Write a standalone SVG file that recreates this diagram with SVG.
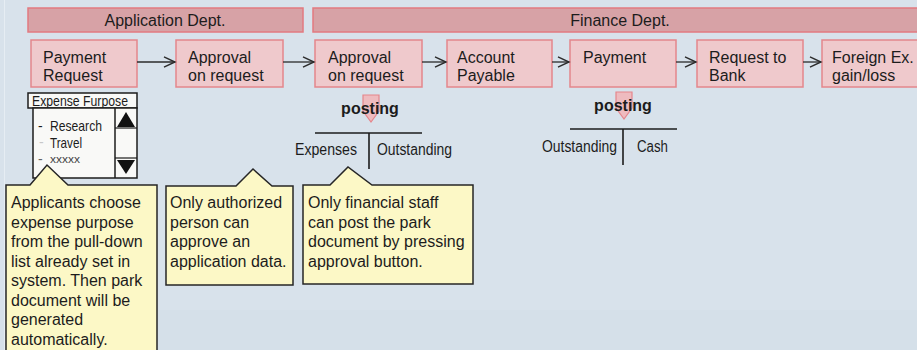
<svg xmlns="http://www.w3.org/2000/svg" width="917" height="350" viewBox="0 0 917 350">
  <defs>
    <marker id="chev" markerWidth="14" markerHeight="12" refX="12" refY="6" orient="auto" markerUnits="userSpaceOnUse">
      <path d="M1,0.8 L12,6 L1,11.2" fill="none" stroke="#2b2b2b" stroke-width="1.4"/>
    </marker>
    <style>
      text { font-family: "Liberation Sans", Arial, sans-serif; fill: #1c1c1c; }
      .dept { fill: #d7a2a6; stroke: #e27a80; stroke-width: 1.5; }
      .dept-t { font-size: 16px; text-anchor: middle; }
      .box { fill: #efc9cc; stroke: #e4868c; stroke-width: 1.5; }
      .lbl { font-size: 16px; }
      .conn { stroke: #2b2b2b; stroke-width: 1.3; fill: none; marker-end: url(#chev); }
      .post { fill: #eebbbf; stroke: #e5868c; stroke-width: 1.2; }
      .post-t { font-size: 16px; font-weight: bold; text-anchor: middle; }
      .tline { stroke: #1c1c1c; stroke-width: 1.6; }
      .tacc { font-size: 16px; }
      .note { fill: #fcf8c6; stroke: #262626; stroke-width: 1.5; }
      .note-t { font-size: 16px; }
      .ui { fill: #f9f9f7; stroke: #1c1c1c; stroke-width: 1.5; }
    </style>
  </defs>

  <!-- canvas -->
  <rect x="0" y="0" width="917" height="350" fill="#d8e2eb"/>
  <rect x="0" y="310" width="917" height="40" fill="#d5e0e9"/>
  <line x1="4.5" y1="0" x2="4.5" y2="350" stroke="#e6edf3" stroke-width="1"/>

  <!-- department headers -->
  <g id="dept-application">
    <rect class="dept" x="28" y="8" width="275" height="24"/>
    <text class="dept-t" x="165" y="26">Application Dept.</text>
  </g>
  <g id="dept-finance">
    <rect class="dept" x="313" y="8" width="612" height="24"/>
    <text class="dept-t" x="620" y="26">Finance Dept.</text>
  </g>

  <!-- process steps -->
  <g id="payment-request">
    <rect class="box" x="31" y="40" width="106" height="47"/>
    <text class="lbl" x="43" y="63">Payment</text>
    <text class="lbl" x="43" y="81">Request</text>
  </g>
  <g id="approval-app">
    <rect class="box" x="176" y="40" width="107" height="47"/>
    <text class="lbl" x="188" y="63">Approval</text>
    <text class="lbl" x="188" y="81">on request</text>
  </g>
  <g id="approval-fin">
    <rect class="box" x="315" y="40" width="107" height="47"/>
    <text class="lbl" x="328" y="63">Approval</text>
    <text class="lbl" x="328" y="81">on request</text>
  </g>
  <g id="account-payable">
    <rect class="box" x="447" y="40" width="105" height="47"/>
    <text class="lbl" x="457" y="63">Account</text>
    <text class="lbl" x="457" y="81">Payable</text>
  </g>
  <g id="payment">
    <rect class="box" x="570" y="40" width="106" height="47"/>
    <text class="lbl" x="583" y="63">Payment</text>
  </g>
  <g id="request-bank">
    <rect class="box" x="697" y="40" width="106" height="47"/>
    <text class="lbl" x="709" y="63">Request to</text>
    <text class="lbl" x="709" y="81">Bank</text>
  </g>
  <g id="fx-gain-loss">
    <rect class="box" x="822" y="40" width="110" height="47"/>
    <text class="lbl" x="832" y="63">Foreign Ex.</text>
    <text class="lbl" x="832" y="81">gain/loss</text>
  </g>

  <!-- flow connectors -->
  <g id="connectors">
    <line class="conn" x1="137" y1="62" x2="175" y2="62"/>
    <line class="conn" x1="283" y1="62" x2="314" y2="62"/>
    <line class="conn" x1="422" y1="62" x2="446" y2="62"/>
    <line class="conn" x1="552" y1="62" x2="569" y2="62"/>
    <line class="conn" x1="676" y1="62" x2="696" y2="62"/>
    <line class="conn" x1="803" y1="62" x2="821" y2="62"/>
  </g>

  <!-- expense purpose pull-down -->
  <g id="expense-dropdown">
    <rect class="ui" x="28" y="93" width="109" height="15"/>
    <text x="32" y="106" font-size="14" textLength="96" lengthAdjust="spacingAndGlyphs">Expense Furpose</text>
    <rect class="ui" x="33" y="108" width="104" height="70"/>
    <line x1="115" y1="108" x2="115" y2="178" stroke="#1c1c1c" stroke-width="1.5"/>
    <line x1="115" y1="128" x2="137" y2="128" stroke="#1c1c1c" stroke-width="1.2"/>
    <line x1="115" y1="158" x2="137" y2="158" stroke="#1c1c1c" stroke-width="1.2"/>
    <polygon points="117,127 135,127 126,112" fill="#111"/>
    <polygon points="117,160 135,160 126,174" fill="#111"/>
    <text x="38" y="131" font-size="14">-</text>
    <text x="50" y="131" font-size="15" textLength="52" lengthAdjust="spacingAndGlyphs">Research</text>
    <text x="39" y="147" font-size="14" style="fill:#c8c8c8">-</text>
    <text x="50" y="148" font-size="15" textLength="32" lengthAdjust="spacingAndGlyphs">Travel</text>
    <text x="38" y="164" font-size="14" style="fill:#666">-</text>
    <text x="50" y="163" font-size="11" textLength="30" lengthAdjust="spacingAndGlyphs" style="fill:#444">xxxxx</text>
  </g>

  <!-- posting of approved application -->
  <g id="posting-expenses">
    <path class="post" d="M363,95 L379,95 L379,111 L371,122 L363,111 Z"/>
    <text class="post-t" x="370" y="114">posting</text>
    <line class="tline" x1="315" y1="133" x2="422" y2="133"/>
    <line class="tline" x1="369" y1="133" x2="369" y2="169"/>
    <text class="tacc" x="295" y="155" textLength="62" lengthAdjust="spacingAndGlyphs">Expenses</text>
    <text class="tacc" x="377" y="155" textLength="75" lengthAdjust="spacingAndGlyphs">Outstanding</text>
  </g>

  <!-- posting of payment -->
  <g id="posting-payment">
    <path class="post" d="M616,92 L632,92 L632,108 L624,119 L616,108 Z"/>
    <text class="post-t" x="623" y="111">posting</text>
    <line class="tline" x1="570" y1="129" x2="677" y2="129"/>
    <line class="tline" x1="623" y1="129" x2="623" y2="165"/>
    <text class="tacc" x="542" y="152" textLength="75" lengthAdjust="spacingAndGlyphs">Outstanding</text>
    <text class="tacc" x="637" y="152" textLength="31" lengthAdjust="spacingAndGlyphs">Cash</text>
  </g>

  <!-- notes -->
  <g id="note-applicant">
    <path class="note" d="M6,185 L30,185 L47,165 L68,185 L157,185 L157,354 L6,354 Z"/>
    <text class="note-t" x="11" y="208">Applicants choose</text>
    <text class="note-t" x="11" y="227.5">expense purpose</text>
    <text class="note-t" x="11" y="247">from the pull-down</text>
    <text class="note-t" x="11" y="266.5">list already set in</text>
    <text class="note-t" x="11" y="286">system. Then park</text>
    <text class="note-t" x="11" y="305.5">document will be</text>
    <text class="note-t" x="11" y="325">generated</text>
    <text class="note-t" x="11" y="344.5">automatically.</text>
  </g>
  <g id="note-authorized">
    <path class="note" d="M166,186 L236,186 L253,169 L272,186 L293,186 L293,285 L166,285 Z"/>
    <text class="note-t" x="170" y="208">Only authorized</text>
    <text class="note-t" x="170" y="227.5">person can</text>
    <text class="note-t" x="170" y="247">approve an</text>
    <text class="note-t" x="170" y="266.5">application data.</text>
  </g>
  <g id="note-financial">
    <path class="note" d="M303,185 L330,185 L348,167 L372,185 L473,185 L473,284 L303,284 Z"/>
    <text class="note-t" x="308" y="208">Only financial staff</text>
    <text class="note-t" x="308" y="227.5">can post the park</text>
    <text class="note-t" x="308" y="247">document by pressing</text>
    <text class="note-t" x="308" y="266.5">approval button.</text>
  </g>
</svg>
